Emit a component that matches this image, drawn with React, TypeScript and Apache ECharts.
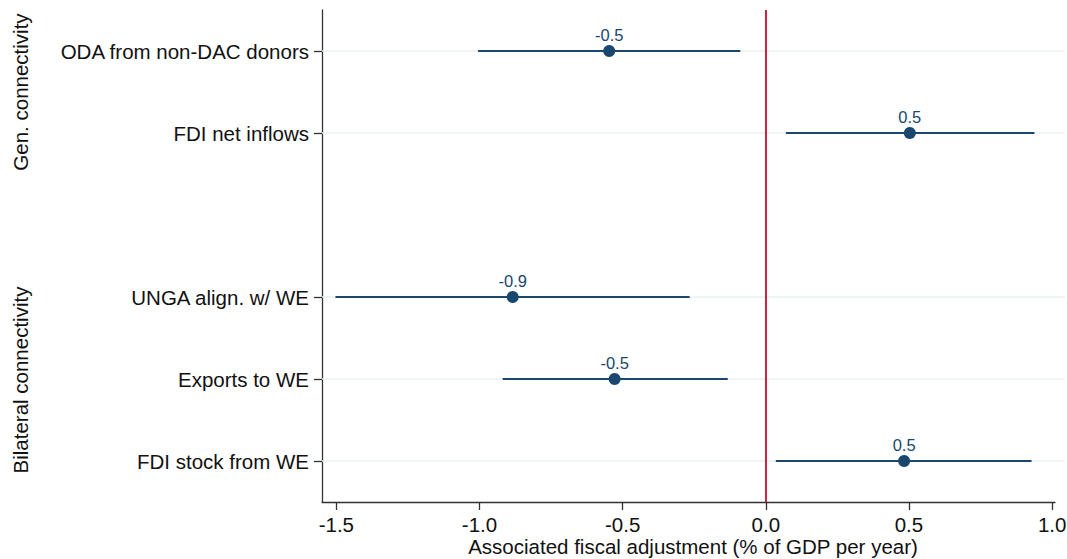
import React, { useEffect, useRef } from "react";
import * as echarts from "echarts";

const categories = [
  "ODA from non-DAC donors",
  "FDI net inflows",
  "",
  "UNGA align. w/ WE",
  "Exports to WE",
  "FDI stock from WE",
];
const estimates = [-0.547, 0.503, null, -0.884, -0.528, 0.483];
const lowerCI = [-1.005, 0.07, null, -1.503, -0.919, 0.035];
const upperCI = [-0.089, 0.938, null, -0.266, -0.133, 0.928];
const xTicks = [-1.5, -1.0, -0.5, 0.0, 0.5, 1.0];
const groupLabels = ["Gen. connectivity", "Bilateral connectivity"];
const xTitle = "Associated fiscal adjustment (% of GDP per year)";

const NAVY = "#1a476f";
const FONT = "Liberation Sans";
const FS = 20.5;

export default function App() {
  const ref = useRef<HTMLDivElement>(null);
  useEffect(() => {
    if (!ref.current) return;
    const chart = echarts.init(ref.current, undefined, { renderer: "svg" });

    const ciData: any[] = [];
    const ptData: any[] = [];
    categories.forEach((c, i) => {
      if (estimates[i] === null) return;
      ciData.push([lowerCI[i], upperCI[i], i]);
      ptData.push([estimates[i], i]);
    });

    const textEl = (text: string, x: number, y: number, rotation: number) => ({
      type: "text",
      x,
      y,
      rotation,
      style: {
        text,
        fontSize: FS,
        fontFamily: FONT,
        fill: "#111",
        textAlign: "center",
        textVerticalAlign: "middle",
      },
    });

    chart.setOption({
      animation: false,
      backgroundColor: "#ffffff",
      textStyle: { fontFamily: FONT },
      grid: {
        left: 322,
        right: 12,
        top: 10,
        bottom: 57,
        containLabel: false,
        outerBoundsMode: "none",
      },
      xAxis: {
        type: "value",
        min: -1.55,
        max: 1.01,
        axisLine: { show: true, onZero: false, lineStyle: { color: "#333", width: 1.3 } },
        axisTick: {
          show: true,
          customValues: xTicks,
          length: 8,
          lineStyle: { color: "#333", width: 1.3 },
        },
        axisLabel: {
          customValues: xTicks,
          fontSize: FS,
          color: "#111",
          margin: 12,
          fontFamily: FONT,
          formatter: (v: number) => v.toFixed(1),
        },
        splitLine: { show: false },
      },
      yAxis: {
        type: "category",
        data: categories,
        inverse: true,
        axisLine: { show: true, onZero: false, lineStyle: { color: "#333", width: 1.3 } },
        axisTick: {
          show: true,
          alignWithLabel: true,
          length: 8,
          interval: (idx: number, val: string) => val !== "",
          lineStyle: { color: "#333", width: 1.3 },
        },
        axisLabel: { fontSize: FS, color: "#111", margin: 13, fontFamily: FONT },
        splitLine: { show: false },
      },
      series: [
        {
          type: "custom",
          name: "ci",
          encode: { x: [0, 1], y: 2 },
          data: ciData,
          z: 2,
          renderItem: (params: any, api: any) => {
            const cat = api.value(2);
            const lo = api.coord([api.value(0), cat]);
            const hi = api.coord([api.value(1), cat]);
            const cs = params.coordSys;
            return {
              type: "group",
              children: [
                {
                  type: "line",
                  shape: { x1: cs.x, y1: lo[1], x2: cs.x + cs.width + 10, y2: lo[1] },
                  style: { stroke: "#e9eff1", lineWidth: 1.5 },
                  z2: 0,
                },
                {
                  type: "line",
                  shape: { x1: lo[0], y1: lo[1], x2: hi[0], y2: hi[1] },
                  style: { stroke: NAVY, lineWidth: 2 },
                  z2: 1,
                },
              ],
            };
          },
        },
        {
          type: "scatter",
          name: "est",
          data: ptData,
          symbol: "circle",
          symbolSize: 12,
          z: 4,
          itemStyle: { color: NAVY, opacity: 1 },
          label: {
            show: true,
            position: "top",
            distance: 2,
            fontSize: 16.5,
            color: NAVY,
            fontFamily: FONT,
            formatter: (p: any) => Number(p.value[0]).toFixed(1),
          },
          markLine: {
            silent: true,
            symbol: "none",
            label: { show: false },
            lineStyle: { color: "#cc0a30", width: 1.8, type: "solid" },
            data: [{ xAxis: 0 }],
          },
        },
      ],
      graphic: [
        textEl(groupLabels[0], 20, 92, Math.PI / 2),
        textEl(groupLabels[1], 20, 380, Math.PI / 2),
        textEl(xTitle, 693, 546, 0),
      ],
    });
    return () => chart.dispose();
  }, []);
  return (
    <div
      ref={ref}
      style={{ position: "fixed", left: 0, top: 0, width: 1067, height: 559 }}
    />
  );
}
